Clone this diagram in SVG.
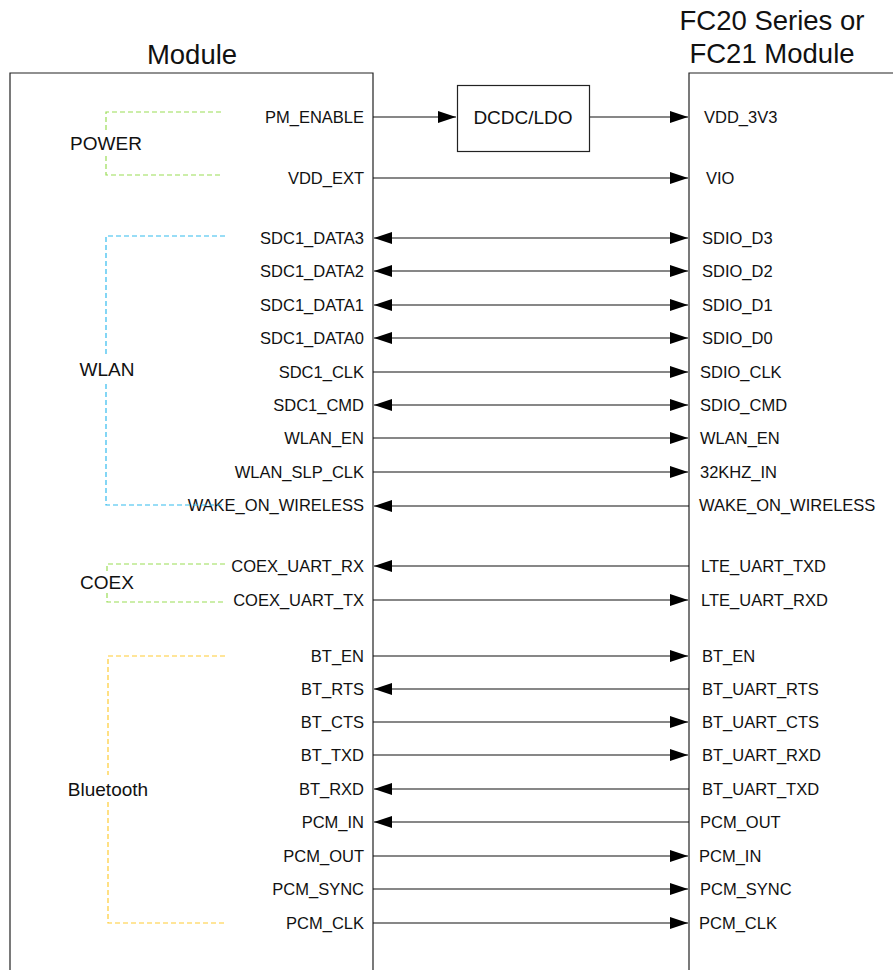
<svg xmlns="http://www.w3.org/2000/svg" width="893" height="970" viewBox="0 0 893 970">
<defs>
<marker id="ah" markerWidth="18" markerHeight="12" refX="18" refY="6" orient="auto" markerUnits="userSpaceOnUse">
<path d="M0,0 L18,6 L0,12 Z" fill="#000"/>
</marker>
<marker id="ahs" markerWidth="18" markerHeight="12" refX="18" refY="6" orient="auto-start-reverse" markerUnits="userSpaceOnUse">
<path d="M0,0 L18,6 L0,12 Z" fill="#000"/>
</marker>
<style>
text{font-family:"Liberation Sans",Arial,sans-serif;fill:#111}
.t{font-size:27.5px;text-anchor:middle}
.l{font-size:16.5px;text-anchor:end}
.r{font-size:16.5px;text-anchor:start}
.g{font-size:19px;text-anchor:middle}
.box{fill:none;stroke:#222;stroke-width:1.2}
.c line{stroke:#111;stroke-width:1.2}
.f{marker-end:url(#ah)}
.b{marker-start:url(#ahs);marker-end:url(#ahs)}
.k{marker-start:url(#ahs)}
.br{fill:none;stroke-width:1.2;stroke-dasharray:5,3}
</style>
</defs>
<g id="module">
<path class="box" d="M10,970 V73 H373 V970"/>
<text class="t" x="192" y="64">Module</text>
<text class="l" x="364" y="123">PM_ENABLE</text>
<text class="l" x="364" y="184">VDD_EXT</text>
<text class="l" x="364" y="244">SDC1_DATA3</text>
<text class="l" x="364" y="277">SDC1_DATA2</text>
<text class="l" x="364" y="311">SDC1_DATA1</text>
<text class="l" x="364" y="344">SDC1_DATA0</text>
<text class="l" x="364" y="378">SDC1_CLK</text>
<text class="l" x="364" y="411">SDC1_CMD</text>
<text class="l" x="364" y="444">WLAN_EN</text>
<text class="l" x="364" y="478">WLAN_SLP_CLK</text>
<text class="l" x="364" y="511">WAKE_ON_WIRELESS</text>
<text class="l" x="364" y="572">COEX_UART_RX</text>
<text class="l" x="364" y="606">COEX_UART_TX</text>
<text class="l" x="364" y="662">BT_EN</text>
<text class="l" x="364" y="695">BT_RTS</text>
<text class="l" x="364" y="728">BT_CTS</text>
<text class="l" x="364" y="761">BT_TXD</text>
<text class="l" x="364" y="795">BT_RXD</text>
<text class="l" x="364" y="828">PCM_IN</text>
<text class="l" x="364" y="862">PCM_OUT</text>
<text class="l" x="364" y="895">PCM_SYNC</text>
<text class="l" x="364" y="929">PCM_CLK</text>
</g>
<g id="group-power">
<path class="br" stroke="#99dd55" d="M221,112 H106 V132 M106,156 V175 H221"/>
<text class="g" x="106" y="150">POWER</text>
</g>
<g id="group-wlan">
<path class="br" stroke="#33bbee" d="M225,236 H106 V355 M106,384 V505 H225"/>
<text class="g" x="107" y="376">WLAN</text>
</g>
<g id="group-coex">
<path class="br" stroke="#99dd55" d="M225,564 H107 V572 M107,593 V602 H225"/>
<text class="g" x="107" y="589">COEX</text>
</g>
<g id="group-bt">
<path class="br" stroke="#ffcc33" d="M225,656 H108 V775 M108,802 V923 H225"/>
<text class="g" x="108" y="796">Bluetooth</text>
</g>
<g id="fc-module">
<path class="box" d="M689,970 V73 H893"/>
<text class="t" x="772" y="30">FC20 Series or</text>
<text class="t" x="772" y="63">FC21 Module</text>
<text class="r" x="704" y="123">VDD_3V3</text>
<text class="r" x="706" y="184">VIO</text>
<text class="r" x="702" y="244">SDIO_D3</text>
<text class="r" x="702" y="277">SDIO_D2</text>
<text class="r" x="702" y="311">SDIO_D1</text>
<text class="r" x="702" y="344">SDIO_D0</text>
<text class="r" x="700" y="378">SDIO_CLK</text>
<text class="r" x="700" y="411">SDIO_CMD</text>
<text class="r" x="700" y="444">WLAN_EN</text>
<text class="r" x="700" y="478">32KHZ_IN</text>
<text class="r" x="699" y="511">WAKE_ON_WIRELESS</text>
<text class="r" x="701" y="572">LTE_UART_TXD</text>
<text class="r" x="701" y="606">LTE_UART_RXD</text>
<text class="r" x="702" y="662">BT_EN</text>
<text class="r" x="702" y="695">BT_UART_RTS</text>
<text class="r" x="702" y="728">BT_UART_CTS</text>
<text class="r" x="702" y="761">BT_UART_RXD</text>
<text class="r" x="702" y="795">BT_UART_TXD</text>
<text class="r" x="700" y="828">PCM_OUT</text>
<text class="r" x="699" y="862">PCM_IN</text>
<text class="r" x="700" y="895">PCM_SYNC</text>
<text class="r" x="699" y="929">PCM_CLK</text>
</g>
<g id="dcdc">
<rect class="box" x="457.5" y="85.5" width="132" height="66"/>
<text x="523" y="124" style="font-size:19px;text-anchor:middle">DCDC/LDO</text>
</g>
<g id="connectors" class="c">
<line class="f" x1="373" y1="117" x2="456" y2="117"/>
<line class="f" x1="590" y1="117" x2="688" y2="117"/>
<line class="f" x1="373" y1="178" x2="688" y2="178"/>
<line class="b" x1="374" y1="238" x2="688" y2="238"/>
<line class="b" x1="374" y1="271" x2="688" y2="271"/>
<line class="b" x1="374" y1="305" x2="688" y2="305"/>
<line class="b" x1="374" y1="338" x2="688" y2="338"/>
<line class="f" x1="373" y1="372" x2="688" y2="372"/>
<line class="b" x1="374" y1="405" x2="688" y2="405"/>
<line class="f" x1="373" y1="438" x2="688" y2="438"/>
<line class="f" x1="373" y1="472" x2="688" y2="472"/>
<line class="k" x1="374" y1="506" x2="689" y2="506"/>
<line class="k" x1="374" y1="566" x2="689" y2="566"/>
<line class="f" x1="373" y1="600" x2="688" y2="600"/>
<line class="f" x1="373" y1="656" x2="688" y2="656"/>
<line class="k" x1="374" y1="689" x2="689" y2="689"/>
<line class="f" x1="373" y1="722" x2="688" y2="722"/>
<line class="f" x1="373" y1="755" x2="688" y2="755"/>
<line class="k" x1="374" y1="789" x2="689" y2="789"/>
<line class="k" x1="374" y1="822" x2="689" y2="822"/>
<line class="f" x1="373" y1="856" x2="688" y2="856"/>
<line class="f" x1="373" y1="889" x2="688" y2="889"/>
<line class="f" x1="373" y1="923" x2="688" y2="923"/>
</g>
</svg>
